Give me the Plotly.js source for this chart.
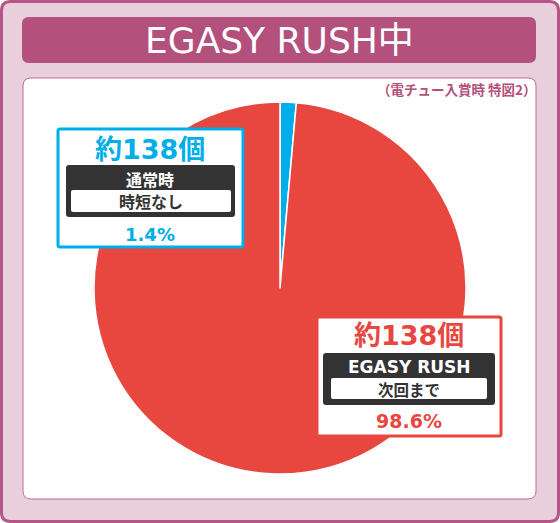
<!DOCTYPE html>
<html>
<head>
<meta charset="utf-8">
<script src="https://cdn.plot.ly/plotly-3.0.1.min.js"></script>
<style>
  html, body { margin: 0; padding: 0; background: #ffffff; }
  #chart { width: 560px; height: 523px; }
</style>
</head>
<body>
<div id="chart"></div>
<script>
// chart data
const chartTitle = 'EGASY RUSH中';
const chartNote = '（電チュー入賞時 特図2）';
const modeNames = ['通常時', 'EGASY RUSH'];
const subNames = ['時短なし', '次回まで'];
const ballCounts = ['約138個', '約138個'];
const shareValues = [1.4, 98.6];

const W = 560, H = 523;
const BLUE = '#00aee9';
const RED = '#e8473f';
// latin glyphs from DejaVu (wide, like the original), kanji/kana fall back to Noto CJK
const FONT = '"DejaVu Sans", "Noto Sans CJK JP", sans-serif';
const CJK = '"Noto Sans CJK JP", sans-serif';

// pixel -> paper
function px(x) { return x / W; }
function py(y) { return 1 - y / H; }

function roundRect(x0, y0, x1, y1, r) {
    const p = (x, y) => px(x) + ',' + py(y);
    return 'M' + p(x0 + r, y0) +
        ' L' + p(x1 - r, y0) + ' Q' + p(x1, y0) + ' ' + p(x1, y0 + r) +
        ' L' + p(x1, y1 - r) + ' Q' + p(x1, y1) + ' ' + p(x1 - r, y1) +
        ' L' + p(x0 + r, y1) + ' Q' + p(x0, y1) + ' ' + p(x0, y1 - r) +
        ' L' + p(x0, y0 + r) + ' Q' + p(x0, y0) + ' ' + p(x0 + r, y0) + ' Z';
}

function box(x0, y0, x1, y1, r, fill, lineColor, lineWidth, layer) {
    return {
        type: 'path', xref: 'paper', yref: 'paper',
        path: roundRect(x0, y0, x1, y1, r),
        fillcolor: fill,
        line: { color: lineColor || fill, width: lineWidth || 0 },
        layer: layer || 'above'
    };
}

function label(text, x, y, size, color, weight, family) {
    return {
        text: text, xref: 'paper', yref: 'paper',
        x: px(x), y: py(y), xanchor: 'center', yanchor: 'middle',
        showarrow: false,
        font: { family: family || FONT, size: size, color: color, weight: weight || 'bold' }
    };
}

const pie = {
    type: 'pie',
    values: shareValues,
    labels: modeNames,
    sort: false,
    direction: 'counterclockwise',
    rotation: 0,
    marker: { colors: [BLUE, RED], line: { color: '#ffffff', width: 1.5 } },
    textinfo: 'none',
    hoverinfo: 'none',
    showlegend: false,
    domain: { x: [px(94), px(466)], y: [py(474), py(102)] }
};

const shapes = [
    // outer frame
    box(1.5, 1.5, 558.5, 521.5, 9, '#e9cfdc', '#b5568a', 3, 'below'),
    // title bar
    box(22, 17, 536, 63, 7, '#b4507c', '#b4507c', 0, 'below'),
    // inner white panel
    box(23, 78, 536, 499, 8, '#ffffff', '#c4679a', 1, 'below'),

    // blue callout
    box(58, 129, 243, 247, 2, '#ffffff', BLUE, 3),
    box(66, 165, 235, 217, 3, '#333333'),
    box(71, 190, 231, 212, 2, '#ffffff'),

    // red callout
    box(317, 317, 501, 436, 2, '#ffffff', RED, 3),
    box(323, 353, 495, 405, 3, '#333333'),
    box(331, 378, 487, 399, 2, '#ffffff')
];

const annotations = [
    label(chartTitle, 279, 41, 36, '#ffffff', 'normal'),
    {
        text: chartNote, xref: 'paper', yref: 'paper',
        x: px(539), y: py(89), xanchor: 'right', yanchor: 'middle',
        showarrow: false,
        font: { family: CJK, size: 13.5, color: '#b4507c', weight: 'bold' }
    },

    label(ballCounts[0], 150, 149, 27, BLUE),
    label(modeNames[0], 150, 179, 16, '#ffffff', 'bold', CJK),
    label(subNames[0], 151, 201, 16, '#333333', 'bold', CJK),
    label(shareValues[0].toFixed(1) + '%', 150, 234, 18, BLUE),

    label(ballCounts[1], 409, 335, 27, RED),
    label(modeNames[1], 409, 367, 17, '#ffffff'),
    label(subNames[1], 409, 389, 15.5, '#333333', 'bold', CJK),
    label(shareValues[1].toFixed(1) + '%', 409, 421, 19, RED)
];

const layout = {
    width: W,
    height: H,
    margin: { t: 0, b: 0, l: 0, r: 0 },
    paper_bgcolor: '#ffffff',
    plot_bgcolor: 'rgba(0,0,0,0)',
    showlegend: false,
    shapes: shapes,
    annotations: annotations
};

Plotly.newPlot('chart', [pie], layout, { displayModeBar: false, staticPlot: true });
</script>
</body>
</html>
